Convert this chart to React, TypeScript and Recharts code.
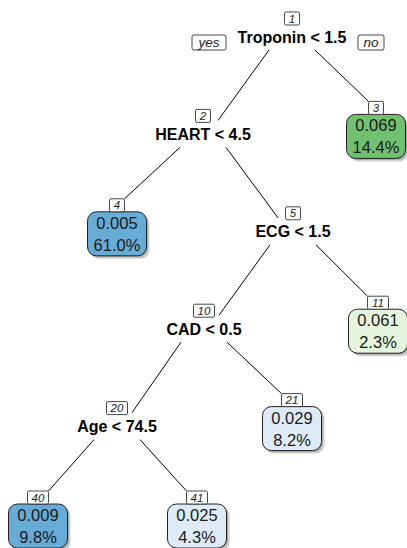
import { ScatterChart, Scatter, XAxis, YAxis } from "recharts";

// rpart tree, node numbering as printed by rpart.plot
const nodeIds = [1, 2, 3, 4, 5, 10, 11, 20, 21, 40, 41];
const nodeX = [292, 203, 376, 117, 293, 204, 378, 117, 292, 38, 197];
const nodeDepth = [0, 1, 1, 2, 2, 3, 3, 4, 4, 5, 5];
const splitLabels = ["Troponin < 1.5", "HEART < 4.5", "", "", "ECG < 1.5", "CAD < 0.5", "", "Age < 74.5", "", "", ""];
const leafValues = [null, null, 0.069, 0.005, null, null, 0.061, null, 0.029, 0.009, 0.025];
const leafPercents = [null, null, 14.4, 61.0, null, null, 2.3, null, 8.2, 9.8, 4.3];

const FONT = "'Liberation Sans', Arial, Helvetica, sans-serif";

type TreeNode = {
  id: number;
  x: number;
  depth: number;
  label: string;
  value: number | null;
  percent: number | null;
};

const nodes: TreeNode[] = nodeIds.map((id, i) => ({
  id,
  x: nodeX[i],
  depth: nodeDepth[i],
  label: splitLabels[i],
  value: leafValues[i],
  percent: leafPercents[i],
}));

const byId = new Map(nodes.map((n) => [n.id, n]));

// box palette: blue for low, green for high
const leafColor = (v: number) => {
  if (v < 0.015) return "#67acd7";
  if (v < 0.045) return "#deeaf6";
  if (v < 0.065) return "#e4f4dd";
  return "#6fc070";
};

const numWidth = (id: number) => (id < 10 ? 15 : 21);

const NumberBox = ({ cx, top, id }: { cx: number; top: number; id: number }) => {
  const w = numWidth(id);
  return (
    <g>
      <rect x={cx - w / 2} y={top} width={w} height={13} rx={1.5} fill="#fff" stroke="#333" strokeWidth={0.9} />
      <text x={cx} y={top + 10.5} textAnchor="middle" fontStyle="italic" fontSize={11.5} fontFamily={FONT} fill="#222">
        {id}
      </text>
    </g>
  );
};

const renderNode = (props: any) => {
  const { cx, cy, payload } = props;
  const n = payload as TreeNode;
  if (n.value === null) {
    return (
      <g>
        <NumberBox cx={cx} top={cy - 25} id={n.id} />
        <text x={cx} y={cy + 5.5} textAnchor="middle" fontWeight="bold" fontSize={16} fontFamily={FONT} fill="#000">
          {n.label}
        </text>
        {n.id === 1 && (
          <g fontStyle="italic" fontSize={13.5} fontFamily={FONT} fill="#222">
            <rect x={cx - 100} y={cy - 2} width={34} height={15} rx={2} fill="#fff" stroke="#333" strokeWidth={0.9} />
            <text x={cx - 83} y={cy + 10} textAnchor="middle">yes</text>
            <rect x={cx + 66} y={cy - 2} width={26} height={15} rx={2} fill="#fff" stroke="#333" strokeWidth={0.9} />
            <text x={cx + 79} y={cy + 10} textAnchor="middle">no</text>
          </g>
        )}
      </g>
    );
  }
  const w = 59;
  const h = 44;
  const bc = cy + 2;
  return (
    <g>
      <rect x={cx - w / 2 + 3} y={bc - h / 2 + 3} width={w} height={h} rx={9} fill="#cfcfcf" />
      <rect x={cx - w / 2 + 1.5} y={bc - h / 2 + 1.5} width={w} height={h} rx={9} fill="#aaaaaa" />
      <rect x={cx - w / 2} y={bc - h / 2} width={w} height={h} rx={9} fill={leafColor(n.value)} stroke="#222" strokeWidth={1} />
      <text x={cx} y={bc - 5} textAnchor="middle" fontSize={16.5} fontFamily={FONT} fill="#1a1a1a">
        {n.value.toFixed(3)}
      </text>
      <text x={cx} y={bc + 17} textAnchor="middle" fontSize={16.5} fontFamily={FONT} fill="#1a1a1a">
        {n.percent!.toFixed(1)}%
      </text>
      <NumberBox cx={cx} top={bc - h / 2 - 13} id={n.id} />
    </g>
  );
};

// branch from below the parent's split label to the child's label
const makeEdge = (child: TreeNode) => (lp: any) => {
  const pts = lp.points;
  if (!pts || pts.length < 2) return <g />;
  const [p, c] = pts;
  const isLeft = child.id % 2 === 0;
  const x1 = p.x + (isLeft ? -23 : 23);
  const y1 = p.y + 13;
  let x2: number;
  let y2: number;
  if (child.value === null) {
    x2 = c.x + (isLeft ? 15 : -15);
    y2 = c.y - 14;
  } else {
    const w = numWidth(child.id);
    x2 = c.x + (isLeft ? w / 2 : -w / 2);
    y2 = c.y + 2 - 22 - 13;
  }
  return <line x1={x1} y1={y1} x2={x2} y2={y2} stroke="#000" strokeWidth={1} />;
};

const edges = nodes
  .filter((n) => n.id > 1)
  .map((n) => ({ child: n, data: [byId.get(Math.floor(n.id / 2))!, n] }));

export default function App() {
  return (
    <div style={{ position: "absolute", left: 0, top: 0, width: 407, height: 548, background: "#fff" }}>
      <ScatterChart width={407} height={548} margin={{ top: 37, right: 0, bottom: 24, left: 0 }}>
        <XAxis type="number" dataKey="x" domain={[0, 407]} hide />
        <YAxis type="number" dataKey="depth" domain={[0, 5]} reversed hide />
        {edges.map((e) => (
          <Scatter
            key={`edge-${e.child.id}`}
            data={e.data}
            shape={() => <g />}
            line={makeEdge(e.child)}
            isAnimationActive={false}
          />
        ))}
        <Scatter data={nodes} shape={renderNode} isAnimationActive={false} />
      </ScatterChart>
    </div>
  );
}
